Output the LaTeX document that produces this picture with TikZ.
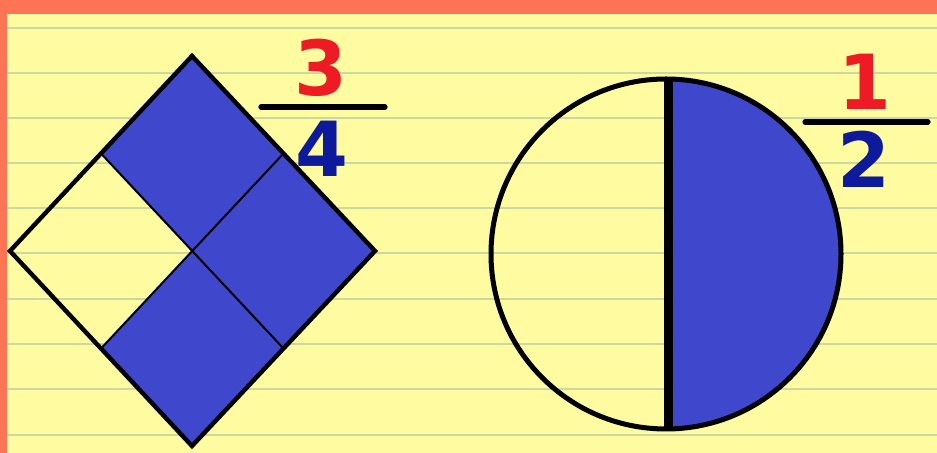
\documentclass[tikz,border=0pt]{standalone}
\usepackage{fontspec}
\setmainfont{DejaVu Sans}
\usetikzlibrary{calc}
\definecolor{paper}{HTML}{FFFBA0}
\definecolor{rule}{HTML}{CCD8A2}
\definecolor{frame}{HTML}{FF7455}
\definecolor{fillblue}{HTML}{3F48CC}
\definecolor{numred}{HTML}{ED1C24}
\definecolor{numblue}{HTML}{0D1A9C}
\begin{document}
\begin{tikzpicture}[x=0.5pt,y=-0.5pt,
  paperline/.style={rule, line width=1.3pt},
  outline/.style={black, line width=2.2pt, line join=miter},
  inner/.style={black, line width=1pt},
  bar/.style={black, line width=2.6pt, line cap=round},
  digit/.style={inner sep=0pt, font=\fontsize{38}{38}\selectfont\bfseries}]
\useasboundingbox (0,0) rectangle (937,453);
\fill[paper] (0,0) rectangle (937,453);
\foreach \y in {28,73,118,163,208,253,299,344,389,435}
  \draw[paperline] (7,\y) -- (937,\y);
\fill[frame] (0,0) rectangle (937,14);
\fill[frame] (0,0) rectangle (7,453);
% diamond
\coordinate (T) at (192,56);
\coordinate (R) at (375,251);
\coordinate (B) at (192,446);
\coordinate (L) at (10,251);
\coordinate (C) at ($ (L)!0.5!(R) $);
\coordinate (TL) at ($ (T)!0.5!(L) $);
\coordinate (TR) at ($ (T)!0.5!(R) $);
\coordinate (BR) at ($ (B)!0.5!(R) $);
\coordinate (BL) at ($ (B)!0.5!(L) $);
\fill[fillblue] (T) -- (TR) -- (C) -- (TL) -- cycle;
\fill[fillblue] (TR) -- (R) -- (BR) -- (C) -- cycle;
\fill[fillblue] (C) -- (BR) -- (B) -- (BL) -- cycle;
\draw[inner] (TL) -- (BR);
\draw[inner] (TR) -- (BL);
\draw[outline] (T) -- (R) -- (B) -- (L) -- cycle;
% circle
\coordinate (O) at (666,254);
\begin{scope}
  \clip (668,60) rectangle (860,450);
  \fill[fillblue] (O) circle[radius=175];
\end{scope}
\draw[black, line width=2.5pt] (O) circle[radius=175];
\coordinate (CT) at (668,78);
\coordinate (CB) at (668,430);
\draw[black, line width=4.5pt] (CT) -- (CB);
% fractions
\node[digit, text=numred] (n3) at (321,68) {3};
\coordinate (b1a) at (261,107);
\coordinate (b1b) at (385,107);
\draw[bar] (b1a) -- (b1b);
\node[digit, text=numblue] (n4) at (322,149) {4};
\node[digit, text=numred] (n1) at (865,82) {1};
\coordinate (b2a) at (805,122);
\coordinate (b2b) at (928,122);
\draw[bar] (b2a) -- (b2b);
\node[digit, text=numblue] (n2) at (864,159) {2};
\end{tikzpicture}
\end{document}
